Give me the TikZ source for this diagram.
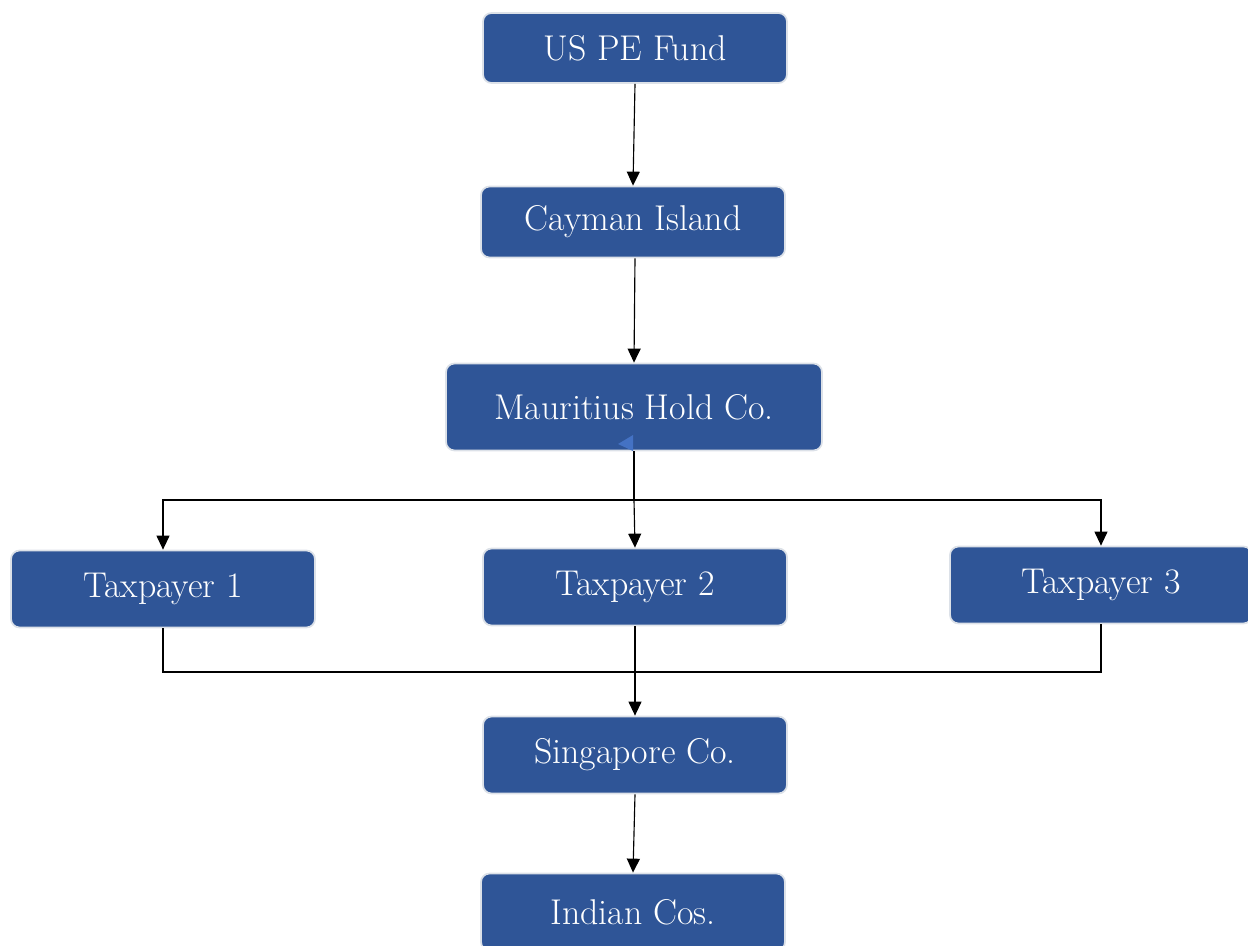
\documentclass[tikz,border=0pt]{standalone}
\usetikzlibrary{arrows.meta}
\definecolor{boxblue}{HTML}{2F5597}
\definecolor{boxrim}{HTML}{DCE1E8}
\definecolor{tipblue}{HTML}{4472C4}
\tikzset{
  entity/.style={draw=boxrim,line width=1pt,fill=boxblue,rounded corners=0.17cm,
    text=white,font=\fontsize{20.4}{24}\selectfont,minimum width=6.08cm,minimum height=1.5cm},
  link/.style={draw=black,line width=0.65pt},
  arr/.style={link,-{Triangle[width=0.26cm,length=0.28cm]}}
}
\begin{document}
\begin{tikzpicture}[x=0.02cm,y=-0.02cm]
\useasboundingbox (0,0) rectangle (1248,946);

% structure boxes
\node[entity,minimum height=1.4cm] (us) at (635,48) {US PE Fund};
\node[entity,minimum height=1.42cm] (cayman) at (633,222) {Cayman Island};
\node[entity,minimum width=7.52cm,minimum height=1.74cm] (maur) at (634,407) {Mauritius Hold Co.};
\node[entity,minimum height=1.54cm] (tp1) at (163,589) {Taxpayer 1};
\node[entity,minimum height=1.54cm] (tp2) at (635,587) {Taxpayer 2};
\node[entity,minimum width=6.04cm,minimum height=1.54cm] (tp3) at (1101,585) {Taxpayer 3};
\node[entity,minimum height=1.54cm] (sing) at (635,755) {Singapore Co.};
\node[entity,minimum height=1.54cm] (india) at (633,912) {Indian Cos.};

% small marker on the Mauritius box
\fill[tipblue] (633,435) -- (618,444) -- (633,451) -- cycle;

\coordinate (split) at (634,500);
\coordinate (merge) at (635,672);

\draw[arr] (us.south) -- (cayman.north);
\draw[arr] ([xshift=0.04cm]cayman.south) -- (maur.north);
\draw[link] (maur.south) -- (split);
\draw[arr] (split) -- (split -| tp1.north) -- (tp1.north);
\draw[arr] (split) -- (split -| tp3.north) -- (tp3.north);
\draw[arr] (split) -- (tp2.north);

\draw[link] (tp1.south) -- (tp1.south |- merge) -- (tp3.south |- merge) -- (tp3.south);
\draw[arr] (tp2.south) -- (sing.north);
\draw[arr] (sing.south) -- (india.north);
\end{tikzpicture}
\end{document}
